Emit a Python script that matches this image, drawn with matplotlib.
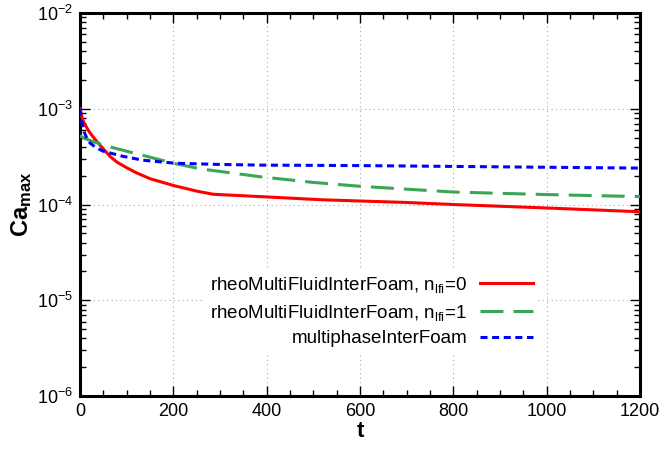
import matplotlib
matplotlib.use("Agg")
import matplotlib.pyplot as plt
from matplotlib.ticker import LogLocator, MultipleLocator

plt.rcParams["font.family"] = ["Liberation Sans", "DejaVu Sans"]
plt.rcParams["mathtext.fontset"] = "custom"
plt.rcParams["mathtext.rm"] = "Liberation Sans"
plt.rcParams["mathtext.it"] = "Liberation Sans"
plt.rcParams["mathtext.bf"] = "Liberation Sans:bold"

# values
t_n0 = [0, 3, 6, 10, 20, 35, 50, 65, 80, 100, 120, 150, 200, 250, 285, 400, 520, 700, 800, 1000, 1200]
ca_n0 = [1.0e-3, 8.5e-4, 7.6e-4, 6.9e-4, 5.7e-4, 4.6e-4, 3.8e-4, 3.15e-4, 2.75e-4, 2.42e-4, 2.15e-4,
         1.86e-4, 1.58e-4, 1.38e-4, 1.28e-4, 1.2e-4, 1.12e-4, 1.05e-4, 1.0e-4, 9.2e-5, 8.4e-5]

t_n1 = [0, 3, 10, 30, 64, 120, 200, 257, 386, 500, 600, 800, 1000, 1200]
ca_n1 = [5.3e-4, 5.1e-4, 4.9e-4, 4.5e-4, 4.0e-4, 3.4e-4, 2.7e-4, 2.36e-4, 1.95e-4, 1.7e-4,
         1.55e-4, 1.35e-4, 1.27e-4, 1.21e-4]

t_mp = [0, 3, 8, 14, 21, 35, 50, 90, 135, 204, 300, 386, 600, 800, 1000, 1200]
ca_mp = [1.0e-3, 7.5e-4, 5.8e-4, 5.0e-4, 4.4e-4, 3.9e-4, 3.6e-4, 3.2e-4, 2.9e-4, 2.7e-4, 2.62e-4,
         2.58e-4, 2.55e-4, 2.5e-4, 2.45e-4, 2.4e-4]

LABELS = [r"rheoMultiFluidInterFoam, n$_\mathregular{lfi}$=0",
          r"rheoMultiFluidInterFoam, n$_\mathregular{lfi}$=1",
          "multiphaseInterFoam"]

fig, ax = plt.subplots(figsize=(6.62, 4.49), dpi=100)
ax.plot(t_n0, ca_n0, color="#ff0000", linewidth=2.2, label=LABELS[0], zorder=3)
ax.plot(t_n1, ca_n1, color="#3aa655", linewidth=2.2, dashes=(7.5, 3.3), label=LABELS[1], zorder=3)
ax.plot(t_mp, ca_mp, color="#0000ff", linewidth=2.2, dashes=(2.3, 1.5), label=LABELS[2], zorder=3)

ax.set_yscale("log")
ax.set_xlim(0, 1200)
ax.set_ylim(1e-6, 1e-2)
ax.xaxis.set_major_locator(MultipleLocator(200))
ax.xaxis.set_minor_locator(MultipleLocator(50))
ax.yaxis.set_major_locator(LogLocator(base=10, numticks=10))
ax.yaxis.set_minor_locator(LogLocator(base=10, subs=range(2, 10), numticks=20))
ax.tick_params(which="both", direction="in", top=True, right=True, labelsize=13, width=1)
ax.tick_params(which="major", length=7, pad=5)
ax.tick_params(which="minor", length=4)
ax.grid(True, which="major", color="#aaaaaa", linestyle=(0, (1, 3)), linewidth=0.8)
for s in ax.spines.values():
    s.set_linewidth(2.2)

ax.set_xlabel(r"$\mathbf{t}$", fontsize=16, labelpad=1)
ax.set_ylabel(r"$\mathbf{Ca_{max}}$", fontsize=17, labelpad=2)

leg = ax.legend(loc="upper right", bbox_to_anchor=(0.835, 0.355), markerfirst=False,
                frameon=True, framealpha=1, edgecolor="none", fontsize=13.5,
                handlelength=2.8, handletextpad=0.7, labelspacing=0.4,
                borderpad=0.3, fancybox=False)
for txt in leg.get_texts():
    txt.set_ha("right")
leg._legend_box.align = "right"
leg.set_zorder(4)

fig.subplots_adjust(left=0.121, right=0.967, top=0.971, bottom=0.118)
fig.savefig("out.png", dpi=100, facecolor="white")
